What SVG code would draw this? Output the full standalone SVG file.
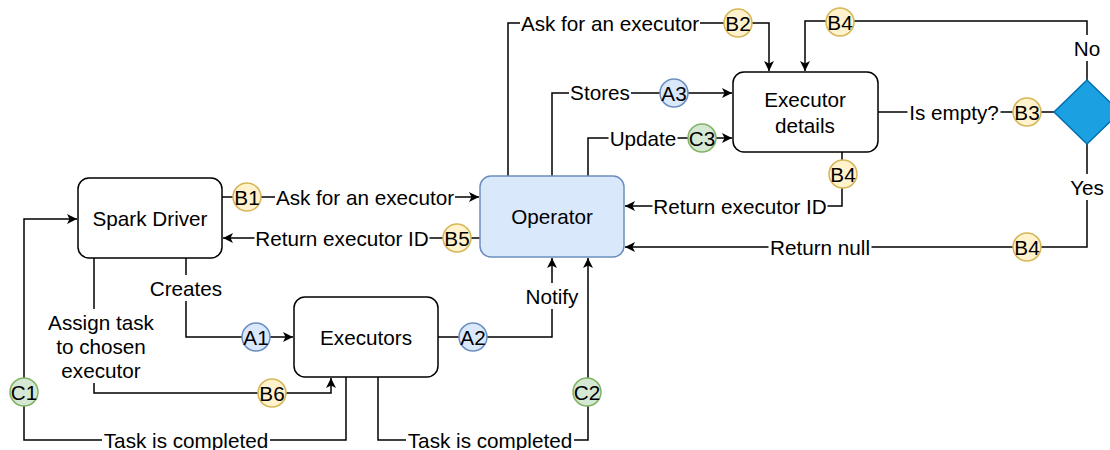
<svg xmlns="http://www.w3.org/2000/svg" width="1110" height="450" viewBox="0 0 1110 450">
<style>
text{font-family:"Liberation Sans",Arial,sans-serif;font-size:20.7px;fill:#000;text-anchor:middle;dominant-baseline:central}
.bg{fill:#fff}
.box{fill:#fff;stroke:#000;stroke-width:1.5}
.op{fill:#dae8fc;stroke:#6c8ebf;stroke-width:1.5}
.conn path{fill:none;stroke:#000;stroke-width:1.5}
.y{fill:#fff2cc;stroke:#d6b656;stroke-width:1.5}
.b{fill:#dae8fc;stroke:#6c8ebf;stroke-width:1.5}
.g{fill:#d5e8d4;stroke:#82b366;stroke-width:1.5}
</style>
<defs>
<marker id="arr" markerUnits="userSpaceOnUse" markerWidth="12" markerHeight="12" refX="10" refY="5" orient="auto">
<path d="M0,0 L10,5 L0,10 L2.5,5 z" fill="#000"/>
</marker>
</defs>
<rect width="1110" height="450" fill="#fff"/>
<g id="connectors" class="conn">
<path d="M222,197 H479" marker-end="url(#arr)"/>
<path d="M480,238 H223" marker-end="url(#arr)"/>
<path d="M508,176 V23 H769 V71" marker-end="url(#arr)"/>
<path d="M552,176 V93 H732" marker-end="url(#arr)"/>
<path d="M588,176 V138 H732" marker-end="url(#arr)"/>
<path d="M878,112 H1054"/>
<path d="M1087,80 V21 H805 V71" marker-end="url(#arr)"/>
<path d="M1087,144 V247 H625" marker-end="url(#arr)"/>
<path d="M842,152 V206 H625" marker-end="url(#arr)"/>
<path d="M186,258 V337 H293" marker-end="url(#arr)"/>
<path d="M94,258 V393 H331 V378" marker-end="url(#arr)"/>
<path d="M346,377 V440 H24 V219 H77" marker-end="url(#arr)"/>
<path d="M378,377 V440 H588 V258" marker-end="url(#arr)"/>
<path d="M438,337 H552 V258" marker-end="url(#arr)"/>
</g>
<g id="labels">
<rect class="bg" x="275" y="192" width="180" height="10"/><text x="365" y="197">Ask for an executor</text>
<rect class="bg" x="254.5" y="233" width="175" height="10"/><text x="342" y="238">Return executor ID</text>
<rect class="bg" x="520" y="18" width="180" height="10"/><text x="610" y="23">Ask for an executor</text>
<rect class="bg" x="569" y="87" width="62" height="10"/><text x="600" y="92">Stores</text>
<rect class="bg" x="608.5" y="133" width="69" height="10"/><text x="643" y="138">Update</text>
<rect class="bg" x="907.5" y="107" width="93" height="10"/><text x="954" y="112">Is empty?</text>
<rect class="bg" x="652.5" y="201" width="175" height="10"/><text x="740" y="206">Return executor ID</text>
<rect class="bg" x="768.5" y="242" width="103" height="10"/><text x="820" y="247">Return null</text>
<rect class="bg" x="1072" y="35" width="30" height="26"/><text x="1087" y="48">No</text>
<rect class="bg" x="1068" y="174" width="38" height="26"/><text x="1087" y="187">Yes</text>
<rect class="bg" x="150" y="275" width="72" height="26"/><text x="186" y="288">Creates</text>
<rect class="bg" x="525" y="283" width="54" height="26"/><text x="552" y="296">Notify</text>
<rect class="bg" x="46" y="309" width="110" height="74"/>
<text x="101" y="322">Assign task</text>
<text x="101" y="346">to chosen</text>
<text x="101" y="370">executor</text>
<rect class="bg" x="102" y="435" width="168" height="10"/><text x="186" y="440">Task is completed</text>
<rect class="bg" x="406" y="435" width="168" height="10"/><text x="490" y="440">Task is completed</text>
</g>
<g id="spark-driver"><rect class="box" x="78" y="178" width="144" height="80" rx="11"/><text x="150" y="218">Spark Driver</text></g>
<g id="operator"><rect class="op" x="480" y="176" width="144" height="81" rx="11"/><text x="552" y="216">Operator</text></g>
<g id="executor-details"><rect class="box" x="733" y="72" width="145" height="80" rx="11"/><text x="805" y="99">Executor</text><text x="805" y="125">details</text></g>
<g id="executors"><rect class="box" x="294" y="297" width="144" height="80" rx="11"/><text x="366" y="337">Executors</text></g>
<g id="decision"><path d="M1087,80 L1120,112 L1087,144 L1054,112 z" fill="#1ba1e2" stroke="#006eaf" stroke-width="1.5"/></g>
<g id="badges">
<g id="b1"><circle class="y" cx="247" cy="197" r="14"/><text x="247" y="197">B1</text></g>
<g id="b5"><circle class="y" cx="457" cy="238" r="14"/><text x="457" y="238">B5</text></g>
<g id="b2"><circle class="y" cx="738" cy="23" r="14"/><text x="738" y="23">B2</text></g>
<g id="a3"><circle class="b" cx="674" cy="93" r="14"/><text x="674" y="93">A3</text></g>
<g id="c3"><circle class="g" cx="702" cy="138" r="14"/><text x="702" y="138">C3</text></g>
<g id="b3"><circle class="y" cx="1027" cy="112" r="14"/><text x="1027" y="112">B3</text></g>
<g id="b4a"><circle class="y" cx="840" cy="22" r="14"/><text x="840" y="22">B4</text></g>
<g id="b4b"><circle class="y" cx="1027" cy="247" r="14"/><text x="1027" y="247">B4</text></g>
<g id="b4c"><circle class="y" cx="843" cy="174" r="14"/><text x="843" y="174">B4</text></g>
<g id="a1"><circle class="b" cx="256" cy="337" r="14"/><text x="256" y="337">A1</text></g>
<g id="b6"><circle class="y" cx="272" cy="393" r="14"/><text x="272" y="393">B6</text></g>
<g id="c1"><circle class="g" cx="24" cy="392" r="14"/><text x="24" y="392">C1</text></g>
<g id="c2"><circle class="g" cx="587" cy="392" r="14"/><text x="587" y="392">C2</text></g>
<g id="a2"><circle class="b" cx="473" cy="337" r="14"/><text x="473" y="337">A2</text></g>
</g>
</svg>
